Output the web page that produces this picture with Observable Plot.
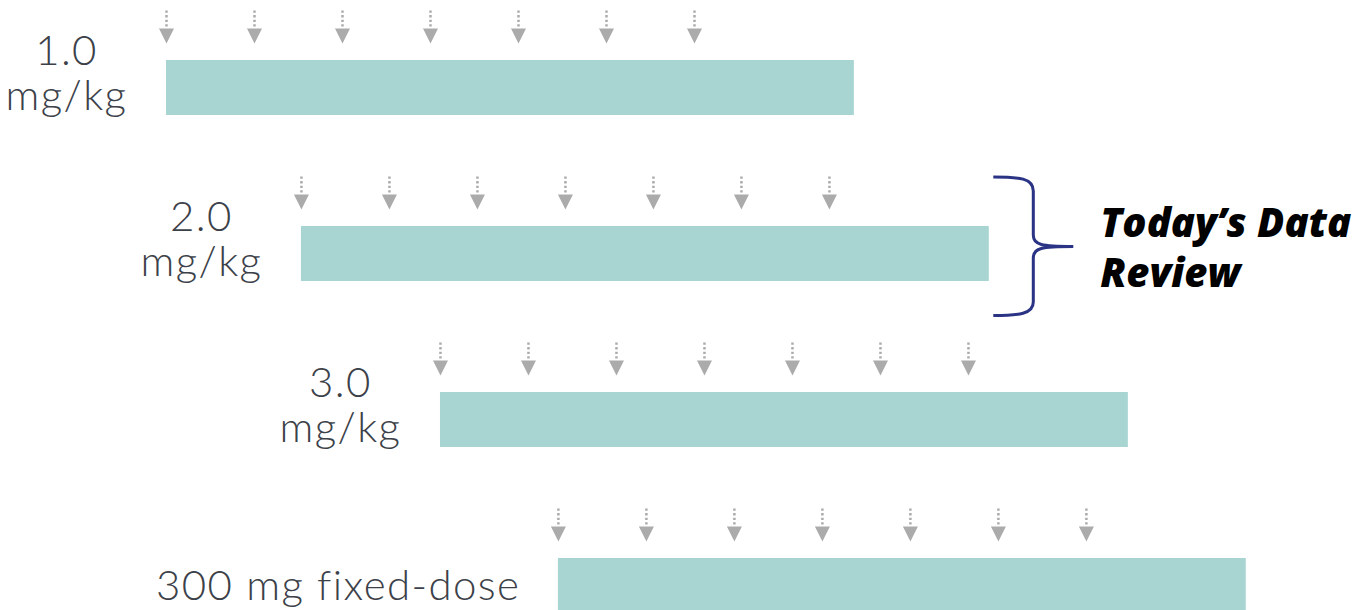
<!DOCTYPE html>
<html>
<head>
<meta charset="utf-8">
<script src="https://cdn.jsdelivr.net/npm/d3@7"></script>
<script src="https://cdn.jsdelivr.net/npm/@observablehq/plot@0.6"></script>
<style>
  html, body { margin: 0; padding: 0; background: #ffffff; }
  #chart { width: 1360px; height: 610px; overflow: hidden; }
  #chart g[font-family^="Lato"] { letter-spacing: 1.4px; }
</style>
</head>
<body>
<div id="chart"></div>
<script>
// Dose-escalation cohorts, staggered by enrollment start (weeks)
const cohorts = ["1.0 mg/kg", "2.0 mg/kg", "3.0 mg/kg", "300 mg fixed-dose"];
const cohortLabels = ["1.0\nmg/kg", "2.0\nmg/kg", "3.0\nmg/kg", "300 mg fixed-dose"];
const startWeeks = [0, 4.6, 9.34, 13.36];
const treatmentWeeks = [23.45, 23.45, 23.45, 23.45];
// Dosing visits, weeks after each cohort's start (every 3 weeks)
const doseWeeks = [0, 3, 6, 9, 12, 15, 18];
// Cohort under review
const reviewCohort = "2.0 mg/kg";
const reviewText = "Today\u2019s Data\nReview";

const rows = cohorts.map((c, i) => ({
  cohort: c,
  label: cohortLabels[i],
  start: startWeeks[i],
  end: startWeeks[i] + treatmentWeeks[i]
}));
const doses = rows.flatMap(r => doseWeeks.map(w => ({cohort: r.cohort, week: r.start + w})));

// Dotted stem with a solid downward head, drawn above the bar centre
const doseArrow = {
  draw(ctx) {
    for (let y = -77.5; y < -60; y += 4.6) ctx.rect(-1.25, y, 2.5, 2.3);
    ctx.moveTo(-7.5, -59.5);
    ctx.lineTo(7.5, -59.5);
    ctx.lineTo(0, -44.5);
    ctx.closePath();
  }
};

// Curly brace opening to the left, its point to the right
const brace = {
  draw(ctx) {
    ctx.moveTo(4, -77);
    ctx.bezierCurveTo(30, -77, 44, -76, 44, -63);
    ctx.lineTo(44, -19);
    ctx.bezierCurveTo(44, -9, 52, -7.5, 84, -7.5);
    ctx.moveTo(84, -7.5);
    ctx.bezierCurveTo(52, -7.5, 44, -6, 44, 4);
    ctx.lineTo(44, 48);
    ctx.bezierCurveTo(44, 60, 30, 61.5, 4, 61.5);
  }
};

const labelFont = "Lato, 'Open Sans', sans-serif";
const reviewFont = "'Open Sans', Lato, sans-serif";
const review = rows.filter(r => r.cohort === reviewCohort);

const chart = Plot.plot({
  width: 1360,
  height: 610,
  margin: 0,
  style: {background: "#ffffff", overflow: "hidden"},
  x: {domain: [0, 30], range: [166, 1046], axis: null},
  y: {type: "band", domain: cohorts, range: [2.95, 670.6], paddingInner: 0.67, paddingOuter: 0.335, axis: null},
  marks: [
    Plot.barX(rows, {x1: "start", x2: "end", y: "cohort", fill: "#a8d5d1"}),
    Plot.dot(doses, {x: "week", y: "cohort", symbol: doseArrow, fill: "#ababab", stroke: "none", r: 1}),
    Plot.text(rows.filter(r => r.label.includes("\n")), {
      x: "start", y: "cohort", text: "label",
      textAnchor: "middle", lineAnchor: "bottom", dx: -100, dy: 22,
      fontSize: 42, lineHeight: 1.08, fontWeight: 300, fontFamily: labelFont, fill: "#3c4149"
    }),
    Plot.text(rows.filter(r => !r.label.includes("\n")), {
      x: "start", y: "cohort", text: "label",
      textAnchor: "end", lineAnchor: "bottom", dx: -38, dy: 14,
      fontSize: 42, fontWeight: 300, fontFamily: labelFont, fill: "#3c4149"
    }),
    Plot.dot(review, {x: "end", y: "cohort", symbol: brace, fill: "none", stroke: "#2a3384", strokeWidth: 3, r: 1}),
    Plot.text(review, {
      x: "end", y: "cohort", text: () => reviewText,
      textAnchor: "start", lineAnchor: "bottom", dx: 111, dy: 33,
      fontSize: 40, lineHeight: 1.25, fontWeight: 800, fontStyle: "italic", fontFamily: reviewFont, fill: "#000000"
    })
  ]
});
document.getElementById("chart").append(chart);
</script>
</body>
</html>
